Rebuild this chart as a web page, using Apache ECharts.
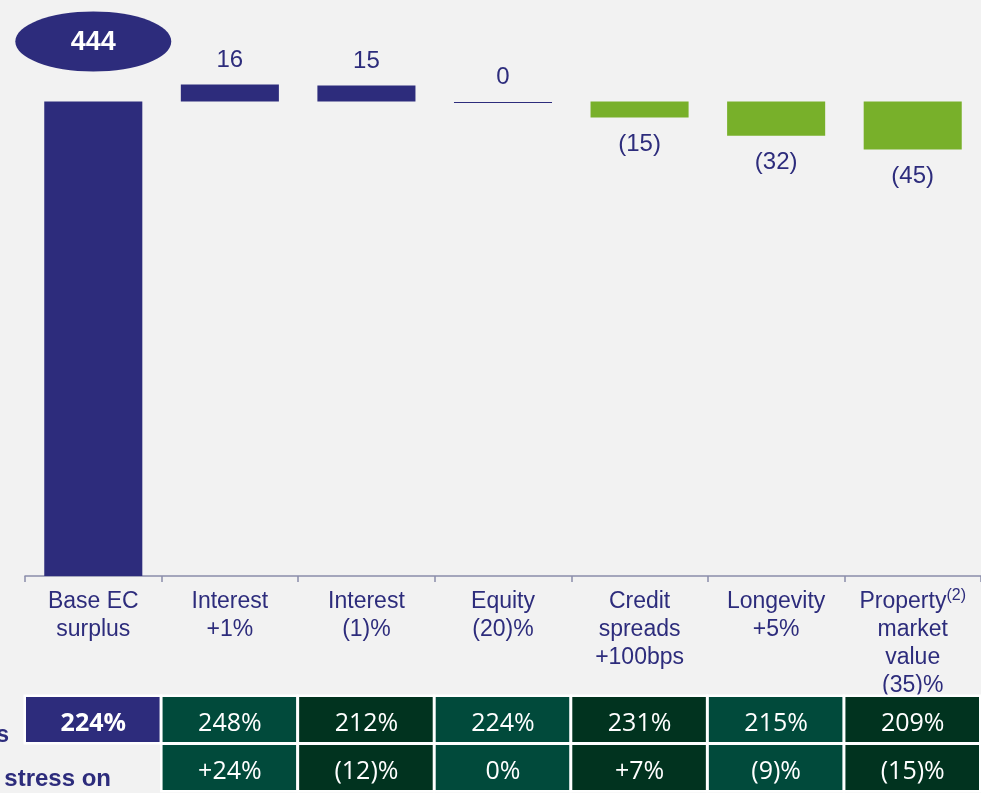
<!DOCTYPE html>
<html>
<head>
<meta charset="utf-8">
<script src="https://cdn.jsdelivr.net/npm/echarts@6/dist/echarts.min.js"></script>
<style>
html,body{margin:0;padding:0;background:#f2f2f2;}
#chart{width:981px;height:793px;}
</style>
</head>
<body>
<div id="chart"></div>
<script>
const categories = ['Base EC\nsurplus', 'Interest\n+1%', 'Interest\n(1)%', 'Equity\n(20)%', 'Credit\nspreads\n+100bps', 'Longevity\n+5%', 'Property{sup|(2)}\nmarket\nvalue\n(35)%'];
const values = [444, 16, 15, 0, -15, -32, -45];
const ratios = ['224%', '248%', '212%', '224%', '231%', '215%', '209%'];
const changes = ['', '+24%', '(12)%', '0%', '+7%', '(9)%', '(15)%'];
const rowLabels = ['Solvency ratios', 'Impact of stress on'];

const NAVY = '#2d2c7c';
const GREEN = '#78b02a';
const CELL_MID = '#014a3b';
const CELL_DARK = '#01331f';
const FAM = '"Liberation Sans", Arial, sans-serif';

function fmt(v, i) {
  if (i === 0) return String(v);
  if (v < 0) return '(' + Math.abs(v) + ')';
  return String(v);
}

const chart = echarts.init(document.getElementById('chart'), null, {renderer: 'canvas'});

const barData = values.map((v, i) => [i, v]);
const tableData = [];
ratios.forEach((t, i) => tableData.push([i, 0]));
changes.forEach((t, i) => { if (t !== '') tableData.push([i, 1]); });

function txt(text, x, y, opts) {
  return {
    type: 'text',
    style: Object.assign({
      text: text, x: x, y: y,
      align: 'center', verticalAlign: 'middle',
      textAlign: 'center', textVerticalAlign: 'middle'
    }, opts)
  };
}

const option = {
  backgroundColor: '#f2f2f2',
  animation: false,
  grid: [
    {left: 25, width: 956, top: 0, height: 576},
    {left: 25, width: 956, top: 697, height: 102}
  ],
  xAxis: [
    {
      type: 'category', gridIndex: 0, data: categories,
      axisLine: {lineStyle: {color: '#8b8dab', width: 1.5}},
      axisTick: {show: true, length: 6, interval: 0, lineStyle: {color: '#8b8dab', width: 1.5}},
      axisLabel: {
        interval: 0, margin: 12, color: NAVY, fontSize: 23, lineHeight: 28,
        fontFamily: FAM, align: 'center', verticalAlign: 'top',
        rich: {
          sup: {fontSize: 16, color: NAVY, fontFamily: FAM, verticalAlign: 'top', lineHeight: 28, padding: [0, 0, 4, 0]}
        }
      }
    },
    {
      type: 'category', gridIndex: 1, data: categories,
      axisLine: {show: false}, axisTick: {show: false}, axisLabel: {show: false}
    }
  ],
  yAxis: [
    {type: 'value', gridIndex: 0, min: 0, max: 539, show: false, splitLine: {show: false}},
    {type: 'category', gridIndex: 1, data: ['r1', 'r2'], inverse: true, show: false}
  ],
  graphic: [
    {type: 'text', x: 9, y: 736, style: {text: rowLabels[0], fill: NAVY, font: 'bold 23px ' + FAM, align: 'right', verticalAlign: 'middle', textAlign: 'right', textVerticalAlign: 'middle'}},
    {type: 'text', x: 111, y: 779, style: {text: rowLabels[1], fill: NAVY, font: 'bold 24px ' + FAM, align: 'right', verticalAlign: 'middle', textAlign: 'right', textVerticalAlign: 'middle'}}
  ],
  series: [
    {
      type: 'custom', xAxisIndex: 0, yAxisIndex: 0, data: barData,
      renderItem: function (params, api) {
        const i = api.value(0), v = api.value(1);
        const base = i === 0 ? 0 : values[0];
        const p0 = api.coord([i, base]);
        const p1 = api.coord([i, base + v]);
        const w = api.size([1, 0])[0] * 0.718;
        const x = p0[0] - w / 2;
        const top = Math.min(p0[1], p1[1]);
        const bottom = Math.max(p0[1], p1[1]);
        const h = bottom - top;
        const cx = p0[0];
        const children = [];
        if (h < 1) {
          children.push({type: 'line', shape: {x1: x, y1: Math.round(p0[1]) + 0.5, x2: x + w, y2: Math.round(p0[1]) + 0.5}, style: {stroke: NAVY, lineWidth: 1}});
        } else {
          children.push({type: 'rect', shape: {x: x, y: top, width: w, height: h}, style: {fill: v < 0 ? GREEN : NAVY}});
        }
        if (i === 0) {
          children.push({type: 'ellipse', shape: {cx: cx, cy: top - 60, rx: 78, ry: 30}, style: {fill: NAVY}});
          children.push(txt(fmt(v, i), cx, top - 59, {fill: '#ffffff', font: 'bold 27px ' + FAM}));
        } else if (v < 0) {
          children.push(txt(fmt(v, i), cx, bottom + 27, {fill: NAVY, font: '24px ' + FAM}));
        } else {
          children.push(txt(fmt(v, i), cx, top - 24, {fill: NAVY, font: '24px ' + FAM}));
        }
        return {type: 'group', children: children};
      }
    },
    {
      type: 'custom', xAxisIndex: 1, yAxisIndex: 1, data: tableData,
      renderItem: function (params, api) {
        const i = api.value(0), r = api.value(1);
        const c = api.coord([i, r]);
        const s = api.size([1, 1]);
        const x = c[0] - s[0] / 2 + 1;
        const y = c[1] - s[1] / 2;
        const w = s[0] - 3;
        const h = s[1] - 3;
        let fill;
        if (i === 0) fill = NAVY; else fill = (i % 2 === 1) ? CELL_MID : CELL_DARK;
        const text = r === 0 ? ratios[i] : changes[i];
        return {type: 'group', children: [
          {type: 'rect', shape: {x: x - 2.5, y: y - 2.5, width: w + 5, height: h + 5}, style: {fill: '#ffffff'}},
          {type: 'rect', shape: {x: x, y: y, width: w, height: h}, style: {fill: fill}},
          txt(text, c[0], y + h / 2 + 4, {fill: '#ffffff', font: (i === 0 ? 'bold ' : '') + '25px "Open Sans", sans-serif'})
        ]};
      }
    }
  ]
};
chart.setOption(option);
</script>
</body>
</html>
